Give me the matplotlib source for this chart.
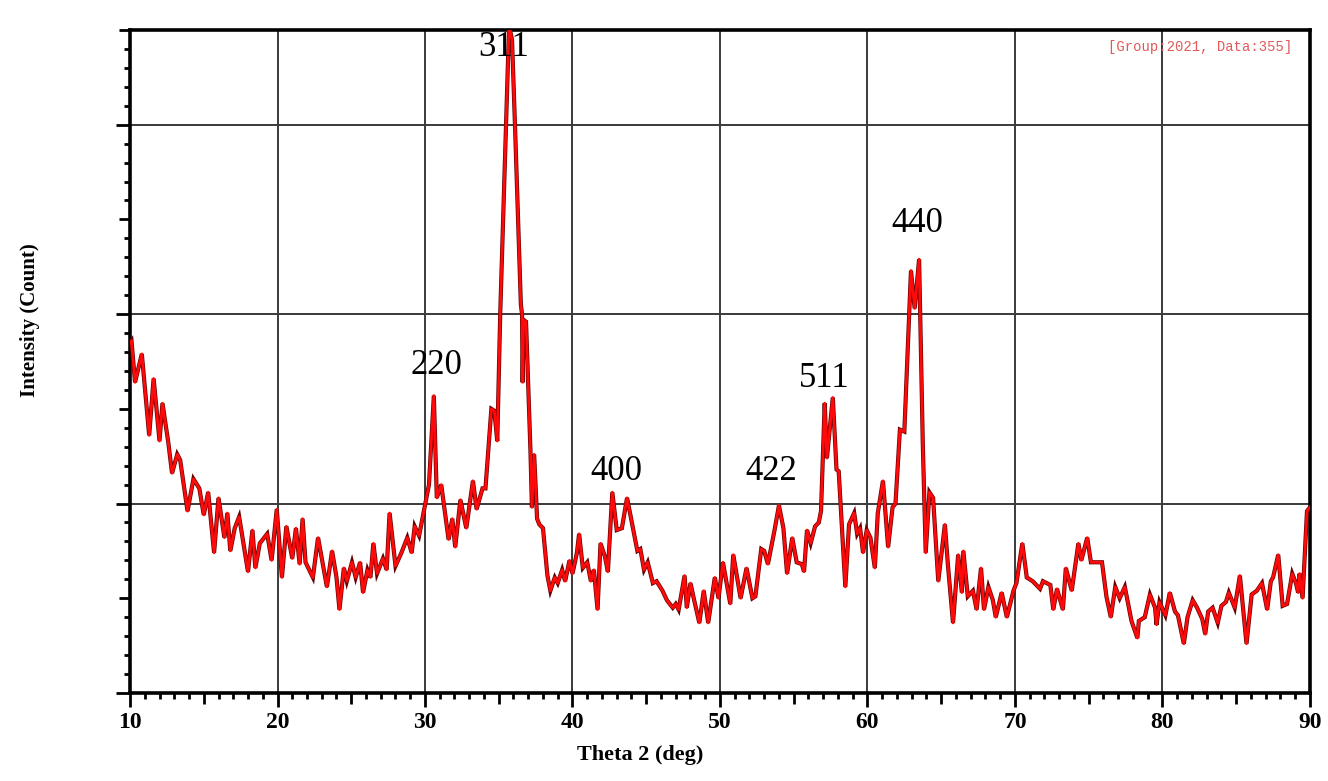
import matplotlib
matplotlib.use("Agg")
import matplotlib.pyplot as plt
from matplotlib.ticker import MultipleLocator, NullFormatter

# XRD pattern (2theta in deg, intensity in counts)
two_theta = [10.0, 10.1, 10.34, 10.8, 11.3, 11.6, 12.0, 12.2, 12.6, 12.85, 13.2, 13.4, 13.9, 14.3,
             14.7, 15.0, 15.3, 15.7, 16.0, 16.4, 16.6, 16.8, 17.1, 17.4, 18.0, 18.3, 18.5, 18.8,
             19.3, 19.6, 19.95, 20.3, 20.6, 21.0, 21.25, 21.5, 21.7, 21.9, 22.4, 22.75, 23.35,
             23.7, 24.0, 24.2, 24.5, 24.7, 25.05, 25.3, 25.6, 25.8, 26.1, 26.3, 26.5, 26.75,
             27.15, 27.4, 27.6, 28.0, 28.4, 28.8, 29.1, 29.3, 29.6, 29.95, 30.27, 30.6, 30.8,
             31.1, 31.6, 31.85, 32.05, 32.4, 32.8, 33.25, 33.5, 33.9, 34.1, 34.5, 34.7, 34.9,
             35.1, 35.7, 35.9, 36.1, 36.5, 36.58, 36.62, 36.68, 36.85, 37.15, 37.25, 37.4, 37.6,
             37.75, 38.0, 38.3, 38.5, 38.8, 39.0, 39.3, 39.5, 39.8, 40.0, 40.3, 40.45, 40.7,
             41.0, 41.25, 41.45, 41.7, 41.9, 42.2, 42.4, 42.7, 43.0, 43.35, 43.7, 44.0, 44.4,
             44.6, 44.85, 45.1, 45.45, 45.7, 46.1, 46.4, 46.8, 47.0, 47.2, 47.6, 47.75, 48.0,
             48.25, 48.6, 48.9, 49.2, 49.65, 49.9, 50.2, 50.7, 50.9, 51.4, 51.8, 52.2, 52.4,
             52.8, 53.0, 53.25, 53.5, 53.7, 54.0, 54.3, 54.55, 54.9, 55.2, 55.55, 55.7, 55.9,
             56.15, 56.45, 56.7, 56.85, 57.1, 57.25, 57.65, 57.9, 58.05, 58.5, 58.75, 59.1,
             59.3, 59.5, 59.7, 59.95, 60.2, 60.5, 60.7, 61.05, 61.4, 61.7, 61.9, 62.2, 62.5,
             62.95, 63.2, 63.5, 63.75, 63.95, 64.2, 64.45, 64.8, 65.25, 65.45, 65.8, 66.15,
             66.4, 66.5, 66.8, 67.15, 67.4, 67.7, 67.9, 68.2, 68.5, 68.7, 69.1, 69.45, 69.9,
             70.1, 70.5, 70.8, 71.2, 71.7, 71.9, 72.4, 72.6, 72.85, 73.25, 73.45, 73.85, 74.3,
             74.5, 74.9, 75.15, 75.5, 75.9, 76.2, 76.5, 76.8, 77.1, 77.45, 77.9, 78.3, 78.4,
             78.8, 79.15, 79.5, 79.6, 79.8, 80.2, 80.5, 80.85, 81.05, 81.45, 81.7, 82.05,
             82.35, 82.7, 82.9, 83.1, 83.4, 83.75, 84.0, 84.3, 84.5, 84.9, 85.25, 85.7, 86.05,
             86.4, 86.75, 87.1, 87.35, 87.5, 87.85, 88.15, 88.45, 88.8, 89.05, 89.2, 89.3,
             89.5, 89.8, 90.0]
counts = [185, 186, 164, 179, 136, 166, 133, 153, 132, 116, 126, 123, 96, 113,
          108, 94, 106, 74, 103, 82, 95, 75, 87, 93, 64, 86, 66, 79,
          84, 70, 97, 61, 88, 71, 87, 68, 92, 69, 61, 82, 56,
          75, 61, 44, 66, 59, 69, 61, 69, 53, 65, 61, 79, 63,
          71, 65, 95, 67, 74, 82, 74, 88, 83, 97, 110, 157, 103,
          110, 81, 92, 77, 102, 87, 112, 97, 108, 108, 150, 149, 133,
          200, 352, 345, 300, 205, 200, 164, 197, 196, 128, 98, 126, 92,
          89, 87, 62, 54, 61, 58, 65, 59, 70, 63, 74, 84, 66,
          69, 59, 65, 44, 79, 72, 64, 106, 86, 87, 103, 91, 75,
          76, 65, 69, 58, 59, 54, 49, 45, 47, 44, 62, 45, 58,
          49, 37, 54, 37, 61, 50, 69, 47, 73, 50, 66, 50, 51,
          76, 75, 68, 78, 86, 99, 87, 63, 82, 69, 68, 64, 86,
          79, 88, 90, 96, 153, 124, 156, 118, 117, 56, 89, 95,
          84, 87, 74, 86, 82, 66, 95, 112, 77, 98, 100, 139, 138,
          223, 203, 229, 132, 74, 106, 103, 59, 89, 68, 37, 73,
          53, 75, 51, 54, 44, 66, 44, 56, 49, 40, 53, 40, 54,
          58, 79, 61, 59, 55, 59, 57, 44, 55, 44, 66, 54, 79,
          70, 82, 69, 69, 69, 51, 40, 56, 50, 56, 38, 29, 38,
          40, 52, 45, 36, 48, 41, 53, 43, 41, 26, 40, 49,
          45, 39, 31, 43, 45, 37, 46, 48, 53, 45, 62, 26, 52,
          54, 58, 44, 59, 61, 73, 46, 47, 63, 58, 53, 63,
          50, 96, 98]

peak_labels = ["220", "311", "400", "422", "511", "440"]
peak_pos = [30.75, 35.35, 42.95, 53.5, 57.1, 63.35]
label_counts = [173, 341, 117, 117, 166, 248]

serif = "Liberation Serif"

fig = plt.figure(figsize=(13.28, 7.81), dpi=100)
ax = fig.add_axes([0.0979, 0.1127, 0.8885, 0.8489])

ax.plot(two_theta, counts, color="#6a0000", linewidth=3.0, solid_joinstyle="miter", zorder=3)
ax.plot(two_theta, counts, color="#ff0a0a", linewidth=2.0, zorder=4)

ax.set_xlim(10, 90)
ax.set_ylim(0, 350)

ax.xaxis.set_major_locator(MultipleLocator(10))
ax.xaxis.set_minor_locator(MultipleLocator(1))
ax.yaxis.set_major_locator(MultipleLocator(100))
ax.yaxis.set_minor_locator(MultipleLocator(10))
ax.yaxis.set_major_formatter(NullFormatter())

ax.grid(True, which="major", color="#3a3a3a", linewidth=1.4, zorder=1)
ax.set_axisbelow(True)

for s in ax.spines.values():
    s.set_linewidth(2.6)
    s.set_color("black")

ax.tick_params(which="major", direction="out", length=10, width=2, pad=4,
               labelsize=17)
ax.tick_params(which="minor", direction="out", length=4, width=2)

# medium ticks on the 5s
fig.canvas.draw()
for axis, step in ((ax.xaxis, 5), (ax.yaxis, 50)):
    locs = axis.get_minorticklocs()
    for t, loc in zip(axis.get_minor_ticks(len(locs)), locs):
        if abs(loc % (2 * step) - step) < 1e-6:
            t.tick1line.set_markersize(8)

for lab in ax.get_xticklabels():
    lab.set_fontfamily(serif)
    lab.set_fontweight("bold")

ax.set_xlabel("Theta 2 (deg)", fontsize=16, fontweight="bold", family=serif)
ax.xaxis.set_label_coords(0.432, -0.094)
ax.xaxis.label.set_va("center")
ax.set_ylabel("Intensity (Count)", fontsize=15, fontweight="bold", family=serif)
ax.yaxis.set_label_coords(-0.085, 0.563)
ax.yaxis.label.set_va("center")

for name, xp, yp in zip(peak_labels, peak_pos, label_counts):
    ax.text(xp, yp, name, fontsize=25, family=serif, ha="center", va="center", zorder=5)

ax.text(0.985, 0.985, "[Group:2021, Data:355]", transform=ax.transAxes,
        fontsize=10, family="Liberation Mono", color="#e05a5a",
        ha="right", va="top")

fig.savefig("out.png", dpi=100)
